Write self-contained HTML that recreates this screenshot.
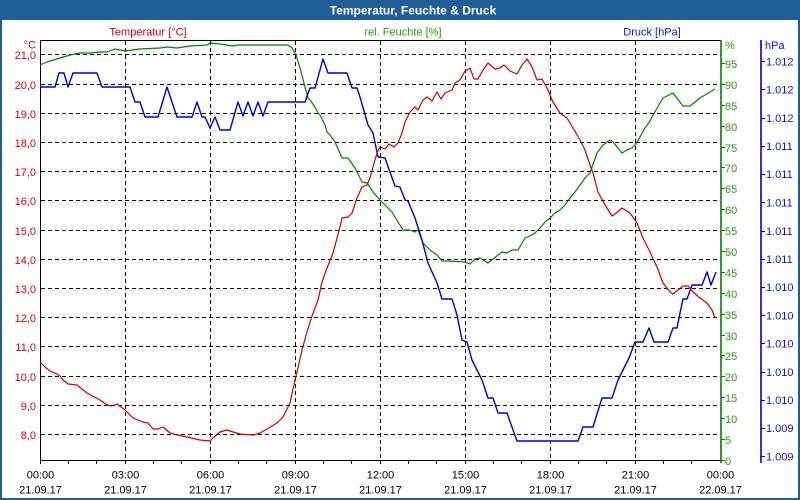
<!DOCTYPE html>
<html><head><meta charset="utf-8"><style>
html,body{margin:0;padding:0;background:#fff;}
body{width:800px;height:500px;overflow:hidden;}
svg{display:block;font-family:"Liberation Sans",sans-serif;font-size:11px;}
</style></head><body>
<svg width="800" height="500" viewBox="0 0 800 500" xmlns="http://www.w3.org/2000/svg">
<rect x="0" y="0" width="800" height="500" fill="#fff"/>
<!-- window frame -->
<rect x="0" y="0" width="800" height="20" fill="#1f5e96"/>
<rect x="0" y="0" width="2" height="500" fill="#1f5e96"/>
<rect x="798" y="0" width="2" height="500" fill="#1f5e96"/>
<rect x="0" y="498" width="800" height="2" fill="#1f5e96"/>
<text x="413" y="14.5" fill="#fff" font-weight="bold" font-size="12" text-anchor="middle">Temperatur, Feuchte &amp; Druck</text>

<!-- series labels -->
<text x="148" y="35.5" fill="#cc0022" text-anchor="middle">Temperatur [°C]</text>
<text x="403" y="35.5" fill="#2e9a12" text-anchor="middle">rel. Feuchte [%]</text>
<text x="652" y="35.5" fill="#1010cc" text-anchor="middle">Druck [hPa]</text>

<!-- grid -->
<g stroke="#000" stroke-width="1" stroke-dasharray="4,3" shape-rendering="crispEdges" fill="none">
<line x1="41" y1="54.5" x2="720" y2="54.5"/>
<line x1="41" y1="84.5" x2="720" y2="84.5"/>
<line x1="41" y1="113.5" x2="720" y2="113.5"/>
<line x1="41" y1="142.5" x2="720" y2="142.5"/>
<line x1="41" y1="171.5" x2="720" y2="171.5"/>
<line x1="41" y1="200.5" x2="720" y2="200.5"/>
<line x1="41" y1="230.5" x2="720" y2="230.5"/>
<line x1="41" y1="259.5" x2="720" y2="259.5"/>
<line x1="41" y1="288.5" x2="720" y2="288.5"/>
<line x1="41" y1="317.5" x2="720" y2="317.5"/>
<line x1="41" y1="346.5" x2="720" y2="346.5"/>
<line x1="41" y1="376.5" x2="720" y2="376.5"/>
<line x1="41" y1="405.5" x2="720" y2="405.5"/>
<line x1="41" y1="434.5" x2="720" y2="434.5"/>
<line x1="125.5" y1="41" x2="125.5" y2="460"/>
<line x1="210.5" y1="41" x2="210.5" y2="460"/>
<line x1="295.5" y1="41" x2="295.5" y2="460"/>
<line x1="380.5" y1="41" x2="380.5" y2="460"/>
<line x1="465.5" y1="41" x2="465.5" y2="460"/>
<line x1="550.5" y1="41" x2="550.5" y2="460"/>
<line x1="635.5" y1="41" x2="635.5" y2="460"/>
</g>

<!-- plot frame -->
<g stroke="#000" stroke-width="1" shape-rendering="crispEdges">
<line x1="40" y1="40.5" x2="721" y2="40.5"/>
<line x1="40.5" y1="40" x2="40.5" y2="464"/>
<line x1="40" y1="460.5" x2="721" y2="460.5"/>
</g>
<!-- hour ticks -->
<g stroke="#000" stroke-width="1" shape-rendering="crispEdges">
<line x1="68.5" y1="460" x2="68.5" y2="464"/><line x1="96.5" y1="460" x2="96.5" y2="464"/><line x1="125.5" y1="460" x2="125.5" y2="464"/>
<line x1="153.5" y1="460" x2="153.5" y2="464"/><line x1="181.5" y1="460" x2="181.5" y2="464"/><line x1="210.5" y1="460" x2="210.5" y2="464"/>
<line x1="238.5" y1="460" x2="238.5" y2="464"/><line x1="266.5" y1="460" x2="266.5" y2="464"/><line x1="295.5" y1="460" x2="295.5" y2="464"/>
<line x1="323.5" y1="460" x2="323.5" y2="464"/><line x1="351.5" y1="460" x2="351.5" y2="464"/><line x1="380.5" y1="460" x2="380.5" y2="464"/>
<line x1="408.5" y1="460" x2="408.5" y2="464"/><line x1="436.5" y1="460" x2="436.5" y2="464"/><line x1="465.5" y1="460" x2="465.5" y2="464"/>
<line x1="493.5" y1="460" x2="493.5" y2="464"/><line x1="521.5" y1="460" x2="521.5" y2="464"/><line x1="550.5" y1="460" x2="550.5" y2="464"/>
<line x1="578.5" y1="460" x2="578.5" y2="464"/><line x1="606.5" y1="460" x2="606.5" y2="464"/><line x1="635.5" y1="460" x2="635.5" y2="464"/>
<line x1="663.5" y1="460" x2="663.5" y2="464"/><line x1="691.5" y1="460" x2="691.5" y2="464"/>
</g>

<!-- right axes -->
<line x1="721" y1="40" x2="721" y2="463" stroke="#008000" stroke-width="1.6"/>
<line x1="761" y1="40" x2="761" y2="463" stroke="#0000cc" stroke-width="1.6"/>
<g stroke="#008000" stroke-width="1" shape-rendering="crispEdges">
<line x1="721" y1="460.5" x2="725" y2="460.5"/><line x1="721" y1="439.5" x2="725" y2="439.5"/><line x1="721" y1="418.5" x2="725" y2="418.5"/><line x1="721" y1="397.5" x2="725" y2="397.5"/>
<line x1="721" y1="376.5" x2="725" y2="376.5"/><line x1="721" y1="355.5" x2="725" y2="355.5"/><line x1="721" y1="335.5" x2="725" y2="335.5"/><line x1="721" y1="314.5" x2="725" y2="314.5"/>
<line x1="721" y1="293.5" x2="725" y2="293.5"/><line x1="721" y1="272.5" x2="725" y2="272.5"/><line x1="721" y1="251.5" x2="725" y2="251.5"/><line x1="721" y1="230.5" x2="725" y2="230.5"/>
<line x1="721" y1="209.5" x2="725" y2="209.5"/><line x1="721" y1="188.5" x2="725" y2="188.5"/><line x1="721" y1="167.5" x2="725" y2="167.5"/><line x1="721" y1="147.5" x2="725" y2="147.5"/>
<line x1="721" y1="126.5" x2="725" y2="126.5"/><line x1="721" y1="105.5" x2="725" y2="105.5"/><line x1="721" y1="84.5" x2="725" y2="84.5"/><line x1="721" y1="63.5" x2="725" y2="63.5"/>
</g>
<g stroke="#0000cc" stroke-width="1" shape-rendering="crispEdges">
<line x1="761" y1="61.5" x2="765" y2="61.5"/><line x1="761" y1="89.5" x2="765" y2="89.5"/><line x1="761" y1="118.5" x2="765" y2="118.5"/><line x1="761" y1="146.5" x2="765" y2="146.5"/>
<line x1="761" y1="174.5" x2="765" y2="174.5"/><line x1="761" y1="202.5" x2="765" y2="202.5"/><line x1="761" y1="231.5" x2="765" y2="231.5"/><line x1="761" y1="259.5" x2="765" y2="259.5"/>
<line x1="761" y1="287.5" x2="765" y2="287.5"/><line x1="761" y1="315.5" x2="765" y2="315.5"/><line x1="761" y1="343.5" x2="765" y2="343.5"/><line x1="761" y1="372.5" x2="765" y2="372.5"/>
<line x1="761" y1="400.5" x2="765" y2="400.5"/><line x1="761" y1="428.5" x2="765" y2="428.5"/><line x1="761" y1="456.5" x2="765" y2="456.5"/>
</g>

<!-- temperature labels -->
<g fill="#cc0022" text-anchor="end">
<text x="36" y="48.5">°C</text>
<text x="36" y="59">21,0</text>
<text x="36" y="89">20,0</text>
<text x="36" y="118">19,0</text>
<text x="36" y="147">18,0</text>
<text x="36" y="176">17,0</text>
<text x="36" y="205">16,0</text>
<text x="36" y="235">15,0</text>
<text x="36" y="264">14,0</text>
<text x="36" y="293">13,0</text>
<text x="36" y="322">12,0</text>
<text x="36" y="351">11,0</text>
<text x="36" y="381">10,0</text>
<text x="36" y="410">9,0</text>
<text x="36" y="439">8,0</text>
</g>

<!-- humidity labels -->
<g fill="#2e9a12">
<text x="725" y="49">%</text>
<text x="725" y="465">0</text><text x="725" y="444">5</text><text x="725" y="423">10</text><text x="725" y="402">15</text>
<text x="725" y="381">20</text><text x="725" y="360">25</text><text x="725" y="340">30</text><text x="725" y="319">35</text>
<text x="725" y="298">40</text><text x="725" y="277">45</text><text x="725" y="256">50</text><text x="725" y="235">55</text>
<text x="725" y="214">60</text><text x="725" y="193">65</text><text x="725" y="172">70</text><text x="725" y="152">75</text>
<text x="725" y="131">80</text><text x="725" y="110">85</text><text x="725" y="89">90</text><text x="725" y="68">95</text>
</g>

<!-- pressure labels -->
<g fill="#1010cc">
<text x="765" y="49">hPa</text>
<text x="766" y="65.5">1.012</text><text x="766" y="93.5">1.012</text><text x="766" y="122">1.012</text>
<text x="766" y="150">1.011</text><text x="766" y="178">1.011</text><text x="766" y="206.5">1.011</text>
<text x="766" y="235">1.011</text><text x="766" y="263">1.011</text><text x="766" y="291">1.010</text>
<text x="766" y="319.5">1.010</text><text x="766" y="347.5">1.010</text><text x="766" y="376">1.010</text>
<text x="766" y="404">1.010</text><text x="766" y="432">1.009</text><text x="766" y="460.5">1.009</text>
</g>

<!-- time labels -->
<g fill="#000" text-anchor="middle">
<text x="40.5" y="478.5">00:00</text><text x="40.5" y="493.5">21.09.17</text>
<text x="125.5" y="478.5">03:00</text><text x="125.5" y="493.5">21.09.17</text>
<text x="210.5" y="478.5">06:00</text><text x="210.5" y="493.5">21.09.17</text>
<text x="295.5" y="478.5">09:00</text><text x="295.5" y="493.5">21.09.17</text>
<text x="380.5" y="478.5">12:00</text><text x="380.5" y="493.5">21.09.17</text>
<text x="465.5" y="478.5">15:00</text><text x="465.5" y="493.5">21.09.17</text>
<text x="550.5" y="478.5">18:00</text><text x="550.5" y="493.5">21.09.17</text>
<text x="635.5" y="478.5">21:00</text><text x="635.5" y="493.5">21.09.17</text>
<text x="720.5" y="478.5">00:00</text><text x="720.5" y="493.5">22.09.17</text>
</g>

<!-- series -->
<polyline fill="none" stroke="#008000" stroke-width="1.2" stroke-linejoin="round" points="40,65 47,62 60,58 70,55 80,53 90,53 100,52 107,52 115,49 125,51 140,49 160,48 167,47 177,48 190,46 207,45 210,43 220,44 233,46 237,45 288,45 292,48 296,55 300,68 305,87 308,98 310,100 315,107 318,113 320,115 325,125 327,132 330,135 335,142 342,158 348,158 355,168 362,182 367,183 373,192 380,200 387,207 392,212 398,222 403,230 410,230 415,232 418,230 423,243 430,250 437,255 442,261 448,261 465,262 470,264 475,259 480,258 488,263 493,259 502,252 507,253 512,250 518,250 525,238 530,236 535,233 540,228 545,222 550,218 555,213 560,210 565,205 570,198 575,192 580,185 585,178 590,173 597,153 603,145 610,140 613,142 622,153 627,150 632,148 635,145 640,137 645,128 650,121 653,115 663,98 673,93 683,106 690,106 700,98 715,89"/>
<polyline fill="none" stroke="#0000cc" stroke-width="1.4" stroke-linejoin="round" points="40,87 55,87 59,73 64,73 68,87 73,73 97,73 102,87 130,87 135,102 140,102 145,117 158,117 167,87 177,117 192,117 197,102 202,117 205,117 210,128 215,117 220,130 230,130 238,102 243,116 248,102 253,116 258,102 263,116 268,102 305,102 310,88 315,88 323,59 328,73 347,73 352,88 357,88 360,97 368,125 373,133 378,157 385,158 390,172 395,186 400,187 405,200 408,201 415,218 422,240 428,263 437,283 442,299 452,299 457,315 462,340 467,342 472,360 478,372 482,380 488,398 493,398 498,413 507,413 517,441 578,441 583,427 593,427 602,398 612,398 618,380 623,370 629,358 635,342 643,342 649,328 654,342 668,342 673,328 677,328 680,313 683,299 687,299 692,285 702,285 707,272 711,285 716,272"/>
<polyline fill="none" stroke="#cc0000" stroke-width="1.2" stroke-linejoin="round" points="40,362 45,367 50,371 55,373 60,376 63,380 68,384 77,385 87,393 100,400 107,405 112,406 117,404 125,410 133,418 143,422 148,423 153,429 158,429 163,427 170,433 177,435 187,437 200,440 210,441 213,438 220,432 227,430 233,432 240,434 253,435 260,433 267,429 277,423 283,417 290,403 295,380 298,368 302,350 307,332 312,316 318,300 322,282 327,268 333,253 340,227 342,218 348,217 352,213 357,198 362,187 367,185 370,178 373,167 377,153 380,147 385,149 389,144 394,147 398,143 402,133 405,122 410,112 415,107 418,110 423,100 427,97 432,101 437,92 441,99 445,93 452,90 455,83 460,80 465,71 470,68 474,79 478,79 483,70 488,63 495,69 500,68 504,65 510,71 517,74 522,65 527,59 532,67 537,80 542,79 547,88 553,102 560,113 567,118 573,128 580,140 585,150 590,165 593,173 598,192 605,205 612,216 615,214 622,208 630,213 637,223 643,238 650,252 657,267 663,283 670,292 673,294 683,286 688,286 693,292 700,298 707,303 712,310 715,318"/>
</svg>
</body></html>
